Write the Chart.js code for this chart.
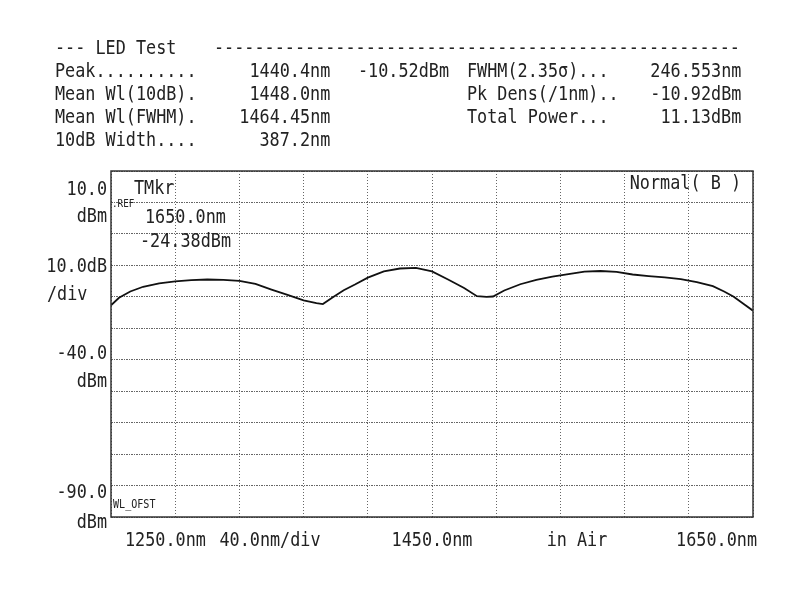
<!DOCTYPE html>
<html>
<head>
<meta charset="utf-8">
<script src="https://cdn.jsdelivr.net/npm/chart.js@4.4.0/dist/chart.umd.min.js"></script>
<style>
body{margin:0;background:#fff;}
#wrap{position:relative;width:800px;height:600px;}
#mycanvas{position:absolute;left:0;top:0;}
.t{position:absolute;font:20px 'DejaVu Sans Mono';line-height:20px;height:20px;white-space:pre;color:#222;transform:scaleX(0.84);transform-origin:left center;}
.r{transform-origin:right center;}
</style>
</head>
<body>
<div id="wrap">
<canvas id="mycanvas" width="800" height="600"></canvas>
<div class="t" style="left:55px;top:37px">--- LED Test</div>
<div class="t" style="left:214px;top:37px">----------------------------------------------------</div>

<div class="t" style="left:55px;top:60px">Peak..........</div>
<div class="t r" style="right:470px;top:60px">1440.4nm</div>
<div class="t" style="left:358px;top:60px">-10.52dBm</div>
<div class="t" style="left:467px;top:60px">FWHM(2.35σ)...</div>
<div class="t r" style="right:59px;top:60px">246.553nm</div>

<div class="t" style="left:55px;top:83px">Mean Wl(10dB).</div>
<div class="t r" style="right:470px;top:83px">1448.0nm</div>
<div class="t" style="left:467px;top:83px">Pk Dens(/1nm)..</div>
<div class="t r" style="right:59px;top:83px">-10.92dBm</div>

<div class="t" style="left:55px;top:106px">Mean Wl(FWHM).</div>
<div class="t r" style="right:470px;top:106px">1464.45nm</div>
<div class="t" style="left:467px;top:106px">Total Power...</div>
<div class="t r" style="right:59px;top:106px">11.13dBm</div>

<div class="t" style="left:55px;top:129px">10dB Width....</div>
<div class="t r" style="right:470px;top:129px">387.2nm</div>
</div>
<script>
// wavelength (nm) and power (dBm)
var wavelength = [1250, 1255, 1262, 1270, 1280, 1290, 1300, 1310, 1320, 1330,
	1340, 1350, 1360, 1370, 1378, 1382, 1388, 1395, 1402, 1410,
	1420, 1430, 1440, 1450, 1460, 1470, 1478, 1484, 1488, 1495,
	1505, 1515, 1525, 1535, 1545, 1555, 1565, 1575, 1585, 1595,
	1605, 1615, 1625, 1632, 1638, 1644, 1650];
var power = [-22.7, -20.3, -18.3, -16.8, -15.7, -15.1, -14.7, -14.5, -14.6, -14.9,
	-15.9, -17.7, -19.4, -21.1, -22.0, -22.3, -20.2, -17.9, -16.1, -13.9,
	-11.9, -11.0, -10.8, -11.9, -14.5, -17.2, -19.8, -20.0, -19.9, -18.0,
	-16.0, -14.6, -13.6, -12.8, -12.0, -11.8, -12.1, -12.9, -13.4, -13.8,
	-14.4, -15.3, -16.6, -18.3, -20.0, -22.2, -24.4];

var xMin = 1250, xMax = 1650, xStep = 40;
var yMin = -90, yMax = 20, yStep = 10;

// left axis labels: [value, line1, line2]
var yLabels = [[10, '10.0', 'dBm'], [-40, '-40.0', 'dBm'], [-90, '-90.0', 'dBm']];
var xLabels = ['1250.0nm', '40.0nm/div', '1450.0nm', 'in Air', '1650.0nm'];

var points = [];
for (var i in wavelength) {
	points.push({x: wavelength[i], y: power[i]});
}

function txt(ctx, s, x, y, align, size) {
	ctx.save();
	ctx.translate(x, y);
	ctx.scale(0.84, 1);
	ctx.font = size + "px 'DejaVu Sans Mono'";
	ctx.textAlign = align;
	ctx.textBaseline = 'middle';
	ctx.fillStyle = '#222';
	ctx.fillText(s, 0, 0);
	ctx.restore();
}

var osaText = {
	id: 'osaText',
	afterDraw: function(chart) {
		var ctx = chart.ctx;
		var a = chart.chartArea;
		var ys = chart.scales.y;
		ctx.save();
		ctx.strokeStyle = '#333';
		ctx.lineWidth = 1.5;
		ctx.strokeRect(a.left, a.top, a.right - a.left, a.bottom - a.top);
		ctx.restore();

		var y10 = ys.getPixelForValue(yLabels[0][0]);
		txt(ctx, yLabels[0][1], a.left - 4, y10 - 13, 'right', 20);
		txt(ctx, yLabels[0][2], a.left - 4, y10 + 14, 'right', 20);
		txt(ctx, '10.0dB', a.left - 4, y10 + 64, 'right', 20);
		txt(ctx, '/div', 47, y10 + 92, 'left', 20);
		var y40 = ys.getPixelForValue(yLabels[1][0]);
		txt(ctx, yLabels[1][1], a.left - 4, y40 - 6, 'right', 20);
		txt(ctx, yLabels[1][2], a.left - 4, y40 + 22, 'right', 20);
		var y90 = ys.getPixelForValue(yLabels[2][0]);
		txt(ctx, yLabels[2][1], a.left - 4, y90 - 24, 'right', 20);
		txt(ctx, yLabels[2][2], a.left - 4, y90 + 6, 'right', 20);

		txt(ctx, '.REF', a.left + 1, y10 + 2, 'left', 11);
		txt(ctx, 'TMkr', a.left + 23, y10 - 14, 'left', 20);
		txt(ctx, '1650.0nm', a.left + 34, y10 + 15, 'left', 20);
		txt(ctx, '-24.38dBm', a.left + 29, y10 + 39, 'left', 20);
		txt(ctx, 'Normal( B )', a.right - 12, a.top + 13, 'right', 20);
		txt(ctx, 'WL_OFST', a.left + 2, a.bottom - 12, 'left', 12);

		var by = a.bottom + 24;
		txt(ctx, xLabels[0], a.left + 14, by, 'left', 20);
		txt(ctx, xLabels[1], 270, by, 'center', 20);
		txt(ctx, xLabels[2], 432, by, 'center', 20);
		txt(ctx, xLabels[3], 577, by, 'center', 20);
		txt(ctx, xLabels[4], a.right + 4, by, 'right', 20);
	}
};

var ctx = document.getElementById('mycanvas');
var chart = new Chart(ctx, {
	type: 'line',
	data: {
		datasets: [{
			data: points,
			borderColor: '#111',
			borderWidth: 1.8,
			pointRadius: 0,
			tension: 0
		}]
	},
	options: {
		responsive: false,
		animation: false,
		events: [],
		layout: {padding: {left: 111, right: 47, top: 171, bottom: 83}},
		plugins: {legend: {display: false}, tooltip: {enabled: false}},
		scales: {
			x: {
				type: 'linear', min: xMin, max: xMax,
				ticks: {display: false, stepSize: xStep},
				grid: {color: '#666', lineWidth: 1, drawTicks: false},
				border: {display: false, dash: [1, 2]}
			},
			y: {
				min: yMin, max: yMax,
				ticks: {display: false, stepSize: yStep},
				grid: {color: '#666', lineWidth: 1, drawTicks: false},
				border: {display: false, dash: [2, 1, 1, 1]}
			}
		}
	},
	plugins: [osaText]
});
</script>
</body>
</html>
